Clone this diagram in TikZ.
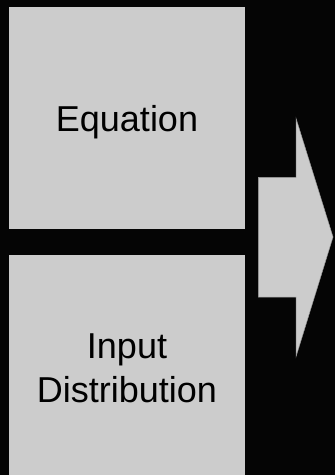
\documentclass[tikz,border=0pt]{standalone}
\usepackage{fontspec}
\setmainfont{Liberation Sans}
\definecolor{boxgray}{HTML}{CCCCCC}
\definecolor{bg}{HTML}{050505}
\begin{document}
\begin{tikzpicture}[x=1pt,y=-1pt,
  panel/.style={fill=boxgray, draw=none},
  label/.style={font=\fontsize{36}{43}\selectfont, text=black, align=center, inner sep=0pt},
  bigarrow/.style={fill=boxgray, draw=gray!80, line width=0.5pt}]
\useasboundingbox (0,0) rectangle (335,475);
\fill[bg] (0,0) rectangle (335,475);
\begin{scope}
\clip (0,0) rectangle (335,475);
\path[panel] (9,7) rectangle (245,229);
\node[coordinate] (top) at (127,118) {};
\path[panel] (9,255) rectangle (245,480);
\end{scope}
\node[label, anchor=base] (eq) at (127,131) {Equation};
\node[label, anchor=base] (inp) at (127,358) {Input};
\node[label, anchor=base] (dist) at (127,402) {Distribution};
\draw[bigarrow] (258.3,177.3) -- (296,177.3) -- (296,118.3) -- (333,237) -- (296,356.7) -- (296,297) -- (258.3,297) -- cycle;
\end{tikzpicture}
\end{document}
